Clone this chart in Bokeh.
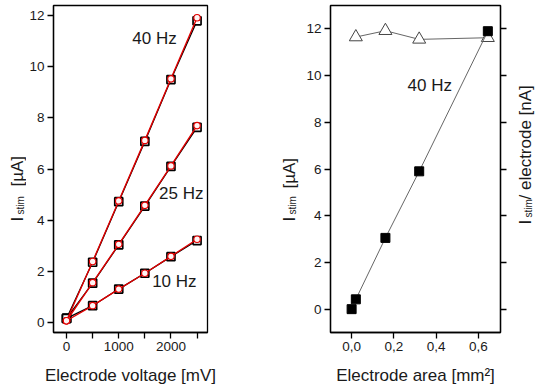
import math
from bokeh.plotting import figure
from bokeh.layouts import row
from bokeh.models import Label, FixedTicker, LinearAxis, Range1d
from bokeh.embed import file_html
from bokeh.resources import INLINE

FONT = "Liberation Sans"

# ---- left panel data ----
voltage = [0, 500, 1000, 1500, 2000, 2500]
sq_40 = [0.15, 2.35, 4.72, 7.08, 9.5, 11.8]
ci_40 = [0.06, 2.38, 4.75, 7.12, 9.53, 11.92]
sq_25 = [0.15, 1.53, 3.03, 4.55, 6.1, 7.63]
ci_25 = [0.06, 1.55, 3.05, 4.58, 6.12, 7.7]
sq_10 = [0.15, 0.65, 1.3, 1.92, 2.57, 3.2]
ci_10 = [0.06, 0.65, 1.3, 1.92, 2.58, 3.25]
left_xticks = [0, 1000, 2000]
left_xminor = [500, 1500, 2500]
left_yticks = [0, 2, 4, 6, 8, 10, 12]

# ---- right panel data ----
area = [0.0, 0.02, 0.16, 0.32, 0.645]
i_area = [0.0, 0.42, 3.05, 5.9, 11.9]
area_tri = [0.02, 0.16, 0.32, 0.645]
i_per_el = [11.65, 11.92, 11.55, 11.62]
right_xticks = [0.0, 0.2, 0.4, 0.6]
right_xlabels = {0.0: "0,0", 0.2: "0,2", 0.4: "0,4", 0.6: "0,6"}
right_yticks = [0, 2, 4, 6, 8, 10, 12]

TXT = "#1a1a1a"
H = 388
TOP = 5
BOTTOM = H - 332


def style_axis(ax):
    ax.major_label_text_font = FONT
    ax.major_label_text_font_size = "13.5px"
    ax.major_label_text_color = TXT
    ax.major_tick_in = 0
    ax.major_tick_out = 6
    ax.minor_tick_in = 0
    ax.minor_tick_out = 0
    ax.axis_line_width = 1.3
    ax.major_tick_line_width = 1.3
    ax.minor_tick_line_width = 1.3
    ax.axis_label_text_font = FONT
    ax.axis_label_text_font_size = "17px"
    ax.axis_label_text_font_style = "normal"
    ax.axis_label_text_color = TXT
    ax.major_label_standoff = 3
    ax.axis_label_standoff = 12


def style(p):
    p.outline_line_color = "black"
    p.outline_line_width = 1.3
    p.xgrid.visible = False
    p.ygrid.visible = False
    p.background_fill_color = "white"
    p.border_fill_color = "white"
    for ax in p.axis:
        style_axis(ax)


def label_fig(width, base_x, parts):
    """A narrow, axis-free figure that only carries a rotated axis title."""
    f = figure(width=width, height=H, x_range=Range1d(0, 1), y_range=Range1d(0, 1),
               x_axis_type=None, y_axis_type=None, output_backend="svg",
               toolbar_location=None, min_border=0, outline_line_color=None)
    f.grid.visible = False
    f.border_fill_color = "white"
    f.background_fill_color = "white"
    for text, size, dx, yy in parts:
        f.add_layout(Label(x=base_x + dx, y=yy, x_units="canvas", y_units="canvas",
                           text=text, angle=math.pi / 2, text_align="left",
                           text_baseline="alphabetic", text_font=FONT,
                           text_font_size=size, text_color=TXT))
    return f


# ---------------- left figure ----------------
p1 = figure(width=196, height=H, x_range=Range1d(-250, 2700), y_range=Range1d(-0.4, 12.4),
            output_backend="svg", toolbar_location=None,
            min_border_left=25, min_border_right=15, min_border_top=TOP,
            min_border_bottom=BOTTOM)
style(p1)
p1.xaxis.ticker = FixedTicker(ticks=left_xticks, minor_ticks=left_xminor)
p1.xaxis.minor_tick_out = 6
p1.yaxis.ticker = FixedTicker(ticks=left_yticks)
p1.xaxis.axis_label = "Electrode voltage [mV]"

for sq in (sq_40, sq_25, sq_10):
    p1.line(voltage, sq, line_color="black", line_width=1.3)
    p1.scatter(voltage, sq, marker="square", size=8, line_color="black", line_width=1.7,
               fill_color="white")
for ci in (ci_40, ci_25, ci_10):
    p1.line(voltage, ci, line_color="#e00000", line_width=1.4)
    p1.scatter(voltage, ci, marker="circle", size=6.5, line_color="#e00000", line_width=1.2,
               fill_color="#fff4f4")

for x, y, t in [(1260, 11.1, "40 Hz"), (1772, 5.05, "25 Hz"), (1640, 1.58, "10 Hz")]:
    p1.add_layout(Label(x=x, y=y, text=t, text_font=FONT, text_font_size="17px",
                        text_baseline="middle", text_color=TXT))

# ---------------- right figure ----------------
p2 = figure(width=212, height=H, x_range=Range1d(-0.1, 0.705), y_range=Range1d(-1, 13),
            output_backend="svg", toolbar_location=None,
            min_border_left=30, min_border_right=12, min_border_top=TOP,
            min_border_bottom=BOTTOM)
p2.add_layout(LinearAxis(ticker=FixedTicker(ticks=right_yticks),
                         major_label_overrides={v: "" for v in right_yticks}), "right")
style(p2)
p2.xaxis.ticker = FixedTicker(ticks=right_xticks)
p2.xaxis.major_label_overrides = right_xlabels
p2.yaxis.ticker = FixedTicker(ticks=right_yticks)
p2.xaxis.axis_label = "Electrode area [mm²]"

p2.line(area_tri, i_per_el, line_color="#666666", line_width=1)
p2.scatter(area_tri, i_per_el, marker="triangle", size=13, line_color="#444444",
           line_width=1, fill_color="white")
p2.line(area[1:], i_area[1:], line_color="#666666", line_width=1)
p2.scatter(area, i_area, marker="square", size=9, line_color="black", fill_color="black")

p2.add_layout(Label(x=0.265, y=9.57, text="40 Hz", text_font=FONT, text_font_size="17px",
                    text_baseline="middle", text_color=TXT))

# ---------------- axis-title strips ----------------
fa = label_fig(26, 17, [("I", "17px", 0, 221), ("stim", "10px", 2.5, 214), ("[µA]", "17px", 0, 186)])
fb = label_fig(78, 67, [("I", "17px", 0, 221), ("stim", "10px", 2.5, 214), ("[µA]", "17px", 0, 188)])
fc = label_fig(23, 13, [("I", "17px", 0, 224), ("stim", "10px", 2.5, 217),
                        ("/ electrode [nA]", "17px", 0, 199)])

layout = row(fa, p1, fb, p2, fc)
open("out.html", "w").write(file_html(layout, INLINE))
